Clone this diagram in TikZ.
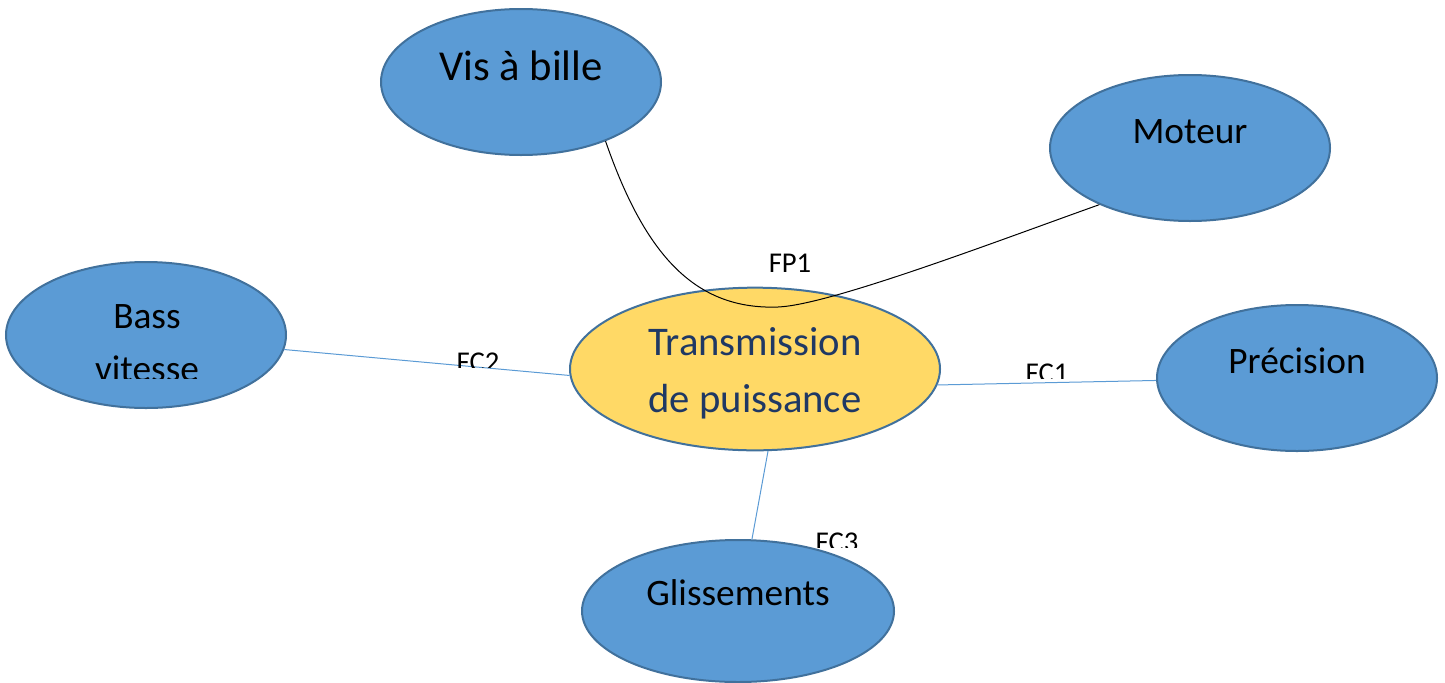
\documentclass[tikz,border=0pt]{standalone}
\usepackage{fontspec}
\setmainfont{Carlito}
\usetikzlibrary{shapes.geometric}
\definecolor{bfill}{HTML}{5B9BD5}
\definecolor{bdraw}{HTML}{41719C}
\definecolor{yfill}{HTML}{FFD966}
\definecolor{navy}{HTML}{1F3864}
\tikzset{
  blob/.style={ellipse, fill=bfill, draw=bdraw, line width=1.5pt, inner sep=0pt,
    minimum width=210pt, minimum height=109.5pt},
  hub/.style={ellipse, fill=yfill, draw=bdraw, line width=1.5pt, inner sep=0pt,
    minimum width=277.5pt, minimum height=122pt},
  txt/.style={anchor=base, inner sep=0pt, font=\fontsize{28}{33}\selectfont},
  big/.style={anchor=base, inner sep=0pt, font=\fontsize{32}{38}\selectfont},
  hubtxt/.style={anchor=base, inner sep=0pt, text=navy, font=\fontsize{30.5}{36}\selectfont},
  lab/.style={anchor=base, inner sep=0pt, font=\fontsize{21.5}{25}\selectfont},
  link/.style={draw=bfill, line width=0.75pt},
  fp/.style={draw=black, line width=0.75pt}
}
\begin{document}
\begin{tikzpicture}[x=0.75pt, y=-0.75pt]
\useasboundingbox (0,0) rectangle (1445,682);
\fill[white] (0,0) rectangle (1445,682);
\node[blob] (vis) at (521,82) {};
\node[blob] (mot) at (1190,148) {};
\node[blob] (bass) at (146,335) {};
\node[blob] (prec) at (1297,378) {};
\node[blob, minimum width=234pt, minimum height=106.5pt] (gli) at (738,611) {};
\node[hub] (trans) at (755,369) {};
% connectors
\draw[link] (bass.-6) -- (trans.182);
\draw[link] (trans.-5.6) -- (prec.181);
\draw[link] (trans.-81) -- (gli.79);
\coordinate (low) at (778,307);
\draw[fp] (vis.-35.6) .. controls (645,255) and (695,310) .. (low)
  .. controls (830,305) and (1000,240) .. (mot.-148.1);
% texts
\node[big] (tvis) at (521,80) {Vis à bille};
\node[txt] (tmot) at (1190,143) {Moteur};
\node[txt] (tbass1) at (147,328) {Bass};
\begin{scope}
\clip (0,0) rectangle (1445,378);
\node[txt] (tbass2) at (147,381) {vitesse};
\end{scope}
\node[txt] (tprec) at (1297,373) {Précision};
\node[txt] (tgli) at (738,605) {Glissements};
\node[hubtxt] (tt1) at (755,355) {Transmission};
\node[hubtxt] (tt2) at (755,412) {de puissance};
\node[lab] (fp1) at (790,272) {FP1};
\begin{scope}
\clip (0,0) rectangle (1445,367);
\node[lab] (fc2) at (478,371) {FC2};
\end{scope}
\begin{scope}
\clip (0,0) rectangle (1445,378);
\node[lab] (fc1) at (1047,382) {FC1};
\end{scope}
\begin{scope}
\clip (0,0) rectangle (1445,547);
\node[lab] (fc3) at (837,551) {FC3};
\end{scope}
\end{tikzpicture}
\end{document}
